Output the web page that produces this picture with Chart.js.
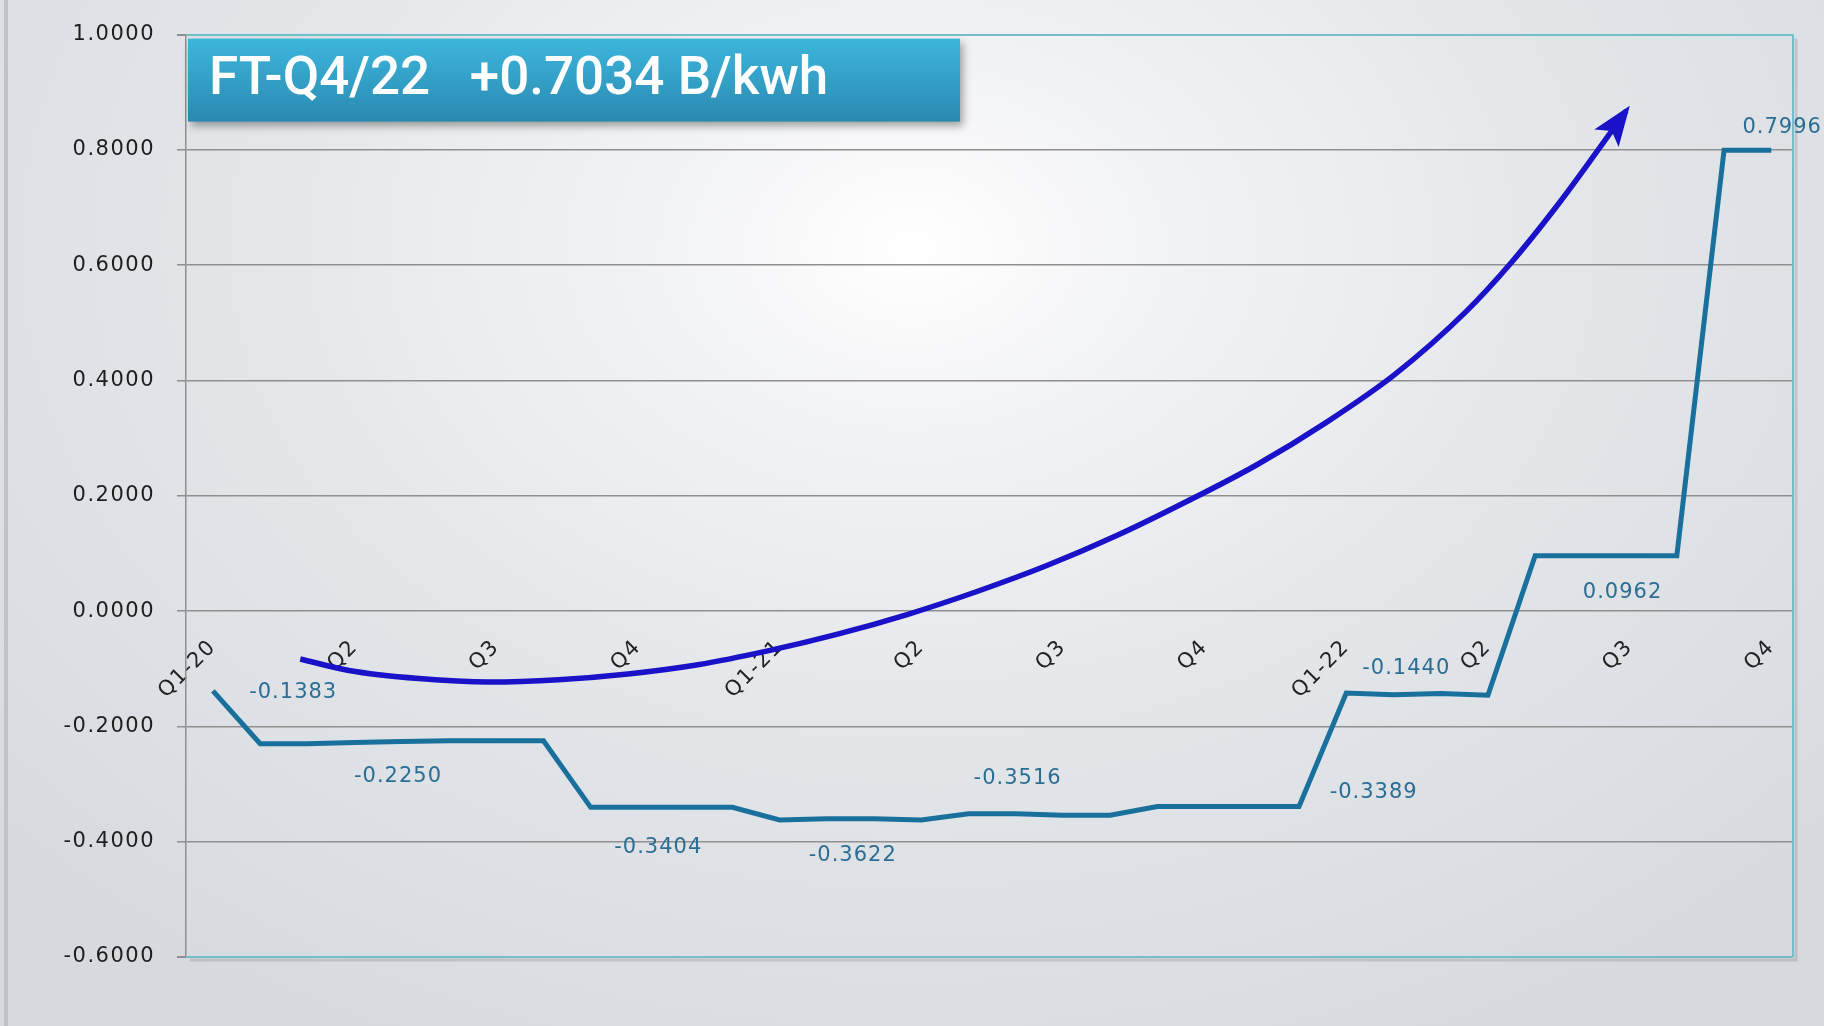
<!DOCTYPE html>
<html>
<head>
<meta charset="utf-8">
<script src="https://cdn.jsdelivr.net/npm/chart.js@4.4.0/dist/chart.umd.min.js"></script>
<style>
  html, body { margin: 0; padding: 0; }
  body {
    width: 1824px; height: 1026px; overflow: hidden; position: relative;
    background: radial-gradient(ellipse 1250px 900px at 50% 24%, #ffffff 0%, #f2f3f5 20%, #e3e6e9 55%, #d6d9de 100%);
  }
  #edge { position: absolute; left: 4px; top: 0; width: 4px; height: 1026px; background: #bfc3c9; }
  #chart { position: absolute; left: 0; top: 0; }
</style>
</head>
<body>
<div id="edge"></div>
<canvas id="chart" width="1824" height="1026"></canvas>
<script>
// quarter ticks, one every third month
const quarterLabels = ['Q1-20', 'Q2', 'Q3', 'Q4', 'Q1-21', 'Q2', 'Q3', 'Q4', 'Q1-22', 'Q2', 'Q3', 'Q4'];

// monthly FT (B/kwh), month 0 = Q1-20 .. month 33 = Q4-22
const ftValues = [
  -0.1383, -0.2300, -0.2300, -0.2280, -0.2260, -0.2250, -0.2250, -0.2250,
  -0.3404, -0.3404, -0.3404, -0.3404,
  -0.3622, -0.3600, -0.3600, -0.3622,
  -0.3516, -0.3516, -0.3540, -0.3540,
  -0.3389, -0.3389, -0.3389, -0.3389,
  -0.1420, -0.1450, -0.1430, -0.1460,
  0.0962, 0.0962, 0.0962, 0.0962,
  0.7996, 0.7996
];

// hand drawn trend arrow (month, value)
const trendX = [1.85, 2.88, 4.36, 5.84, 7.32, 8.79, 10.27, 11.75, 13.23, 14.70, 16.18,
  17.66, 19.14, 20.62, 22.09, 23.57, 25.05, 26.53, 27.51, 28.50, 29.36, 29.93];
const trendY = [-0.083, -0.103, -0.117, -0.123, -0.119, -0.109, -0.093, -0.069, -0.040, -0.006, 0.034,
  0.079, 0.131, 0.190, 0.253, 0.327, 0.412, 0.519, 0.606, 0.707, 0.803, 0.868];

// value call-outs (text, month, value where it sits)
const labelTexts = ['-0.1383', '-0.2250', '-0.3404', '-0.3622', '-0.3516', '-0.3389', '-0.1440', '0.0962', '0.7996'];
const labelX = [1.70, 3.92, 9.43, 13.55, 17.04, 24.58, 25.27, 29.85, 33.23];
const labelY = [-0.141, -0.287, -0.410, -0.424, -0.291, -0.315, -0.099, 0.032, 0.838];

const headline = 'FT-Q4/22   +0.7034 B/kwh';

const TEAL = '#72bfcb';
const GRID = '#8f8f8f';
const FONT = 'DejaVu Sans';

const isEdge = v => Math.abs(v - 1) < 1e-6 || Math.abs(v + 0.6) < 1e-6;

/* letter spacing for the wide axis font */
const spacing = {
  id: 'spacing',
  beforeDraw(chart) { chart.ctx.letterSpacing = '1.5px'; },
  beforeDatasetsDraw(chart) { chart.ctx.letterSpacing = '0px'; }
};

/* teal frame on the right and bottom */
const frame = {
  id: 'frame',
  beforeDatasetsDraw(chart) {
    const { ctx, chartArea: a } = chart;
    ctx.save();
    ctx.strokeStyle = 'rgba(0,0,0,0.12)';
    ctx.lineWidth = 3;
    ctx.beginPath();
    ctx.moveTo(a.left + 4, a.bottom + 3);
    ctx.lineTo(a.right + 3, a.bottom + 3);
    ctx.lineTo(a.right + 3, a.top + 4);
    ctx.stroke();
    ctx.strokeStyle = TEAL;
    ctx.lineWidth = 2;
    ctx.beginPath();
    ctx.moveTo(a.right, a.top);
    ctx.lineTo(a.right, a.bottom);
    ctx.stroke();
    ctx.restore();
  }
};

/* call-out numbers and the arrow head */
const callouts = {
  id: 'callouts',
  afterDatasetsDraw(chart) {
    const { ctx, scales: { x, y } } = chart;
    ctx.save();
    ctx.letterSpacing = '1px';
    ctx.font = `21px "${FONT}"`;
    ctx.fillStyle = '#2b6d93';
    ctx.textAlign = 'center';
    ctx.textBaseline = 'middle';
    labelTexts.forEach((t, i) => {
      ctx.fillText(t, x.getPixelForValue(labelX[i]), y.getPixelForValue(labelY[i]));
    });

    // arrow head on the trend curve
    const pts = chart.getDatasetMeta(1).data;
    const tip = pts[pts.length - 1];
    const back = pts[pts.length - 2];
    const ang = Math.atan2(tip.y - back.y, tip.x - back.x);
    const len = 34, half = 15;
    ctx.fillStyle = '#1a12c8';
    ctx.beginPath();
    ctx.moveTo(tip.x + Math.cos(ang) * 6, tip.y + Math.sin(ang) * 6);
    ctx.lineTo(tip.x - Math.cos(ang) * len + Math.sin(ang) * half, tip.y - Math.sin(ang) * len - Math.cos(ang) * half);
    ctx.lineTo(tip.x - Math.cos(ang) * (len - 9), tip.y - Math.sin(ang) * (len - 9));
    ctx.lineTo(tip.x - Math.cos(ang) * len - Math.sin(ang) * half, tip.y - Math.sin(ang) * len + Math.cos(ang) * half);
    ctx.closePath();
    ctx.fill();
    ctx.restore();
  }
};

/* the headline box in the top left of the plot */
const banner = {
  id: 'banner',
  afterDraw(chart) {
    const { ctx, chartArea: a } = chart;
    const bx = a.left + 2, by = a.top + 4, bw = 772, bh = 83;
    ctx.save();
    ctx.shadowColor = 'rgba(0,0,0,0.35)';
    ctx.shadowBlur = 8;
    ctx.shadowOffsetX = 3;
    ctx.shadowOffsetY = 4;
    const g = ctx.createLinearGradient(0, by, 0, by + bh);
    g.addColorStop(0, '#3db6dc');
    g.addColorStop(1, '#2a89b0');
    ctx.fillStyle = g;
    ctx.fillRect(bx, by, bw, bh);
    ctx.restore();

    ctx.save();
    ctx.font = `500 50px Roboto`;
    const size = 50 * 619 / ctx.measureText(headline).width;
    ctx.font = `500 ${size.toFixed(1)}px Roboto`;
    ctx.fillStyle = '#ffffff';
    ctx.textBaseline = 'middle';
    ctx.fillText(headline, bx + 21, by + bh / 2 + 1);
    ctx.restore();
  }
};

new Chart(document.getElementById('chart'), {
  type: 'line',
  data: {
    datasets: [
      {
        label: 'FT',
        data: ftValues.map((v, i) => ({ x: i, y: v })),
        borderColor: '#19709c',
        borderWidth: 5,
        pointRadius: 0,
        tension: 0
      },
      {
        label: 'trend',
        data: trendX.map((v, i) => ({ x: v, y: trendY[i] })),
        borderColor: '#1a12c8',
        borderWidth: 5.5,
        pointRadius: 0,
        cubicInterpolationMode: 'monotone'
      }
    ]
  },
  options: {
    responsive: false,
    devicePixelRatio: 1,
    animation: false,
    layout: { padding: { top: 33, right: 31, bottom: 69, left: 0 } },
    plugins: { legend: { display: false }, tooltip: { enabled: false } },
    scales: {
      x: {
        type: 'linear',
        position: { y: 0 },
        min: -0.57,
        max: 33.46,
        grid: { display: false, drawTicks: false },
        border: { display: false },
        afterBuildTicks: s => { s.ticks = quarterLabels.map((_, k) => ({ value: k * 3 })); },
        ticks: {
          autoSkip: false,
          minRotation: 45,
          maxRotation: 45,
          padding: 24,
          color: '#222',
          font: { family: FONT, size: 21 },
          callback: v => quarterLabels[Math.round(v / 3)]
        }
      },
      y: {
        min: -0.6,
        max: 1.0,
        afterFit: s => { s.width = 186; },
        grid: {
          color: c => (c.tick && isEdge(c.tick.value)) ? TEAL : GRID,
          lineWidth: c => (c.tick && isEdge(c.tick.value)) ? 2 : 1.5,
          tickLength: 9,
          tickColor: GRID
        },
        border: { color: GRID, width: 1.5 },
        ticks: {
          stepSize: 0.2,
          padding: 22,
          color: '#1e1e1e',
          font: { family: FONT, size: 21 },
          callback: v => Math.abs(v) < 1e-9 ? '0.0000' : v.toFixed(4)
        }
      }
    }
  },
  plugins: [spacing, frame, callouts, banner]
});
</script>
</body>
</html>
